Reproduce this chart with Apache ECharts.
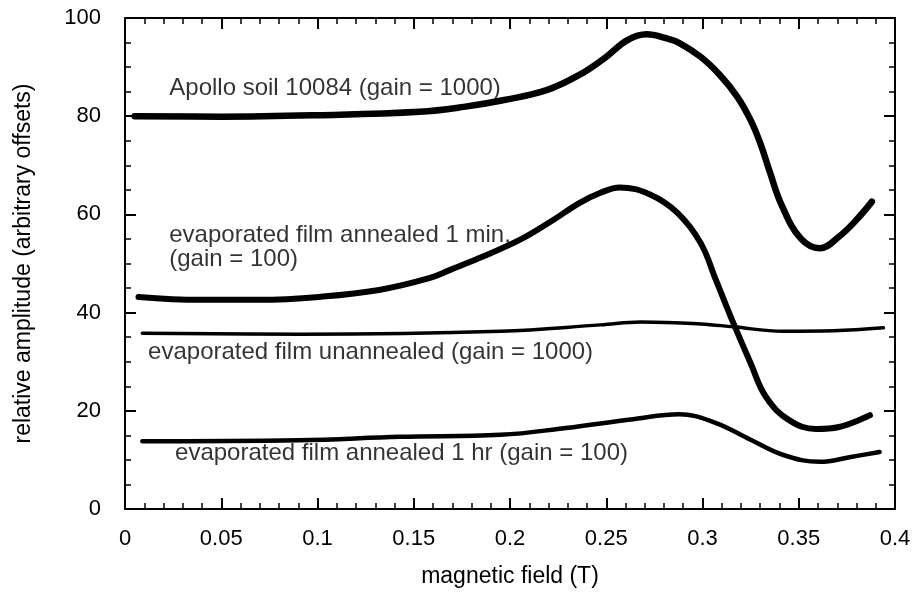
<!DOCTYPE html>
<html>
<head>
<meta charset="utf-8">
<script src="https://cdn.jsdelivr.net/npm/echarts@6/dist/echarts.min.js"></script>
<style>
  html, body { margin: 0; padding: 0; background: #fff; }
  #chart { width: 916px; height: 593px; }
</style>
</head>
<body>
<div id="chart"></div>
<script>
// ESR spectra: magnetic field (T) vs relative amplitude, curves offset vertically
const apolloX = [0.005, 0.05, 0.10, 0.153, 0.176, 0.197, 0.219, 0.236, 0.250, 0.261, 0.271, 0.281, 0.288, 0.299, 0.309, 0.318, 0.325, 0.330, 0.335, 0.341, 0.351, 0.361, 0.371, 0.380, 0.388];
const apolloY = [80, 79.9, 80.2, 80.9, 81.9, 83.3, 85.3, 88.4, 92.1, 95.5, 96.7, 95.9, 94.9, 92.1, 88.4, 84.0, 79.2, 74.5, 68.6, 62.0, 55.1, 53.1, 55.5, 58.9, 62.6];

const min1X = [0.007, 0.039, 0.07, 0.101, 0.132, 0.158, 0.169, 0.184, 0.205, 0.221, 0.236, 0.247, 0.257, 0.273, 0.287, 0.299, 0.307, 0.316, 0.325, 0.333, 0.345, 0.359, 0.371, 0.387];
const min1Y = [43.2, 42.6, 42.6, 43.2, 44.6, 47.0, 48.7, 51.1, 54.8, 58.5, 62.3, 64.4, 65.5, 64.0, 60.3, 54.2, 46.6, 37.9, 29.7, 22.8, 18.1, 16.3, 16.7, 19.1];

const unannX = [0.009, 0.091, 0.195, 0.247, 0.268, 0.299, 0.316, 0.342, 0.368, 0.394];
const unannY = [35.8, 35.6, 36.2, 37.5, 38.1, 37.7, 37.1, 36.2, 36.3, 36.9];

const hr1X = [0.009, 0.09, 0.143, 0.195, 0.229, 0.264, 0.288, 0.307, 0.325, 0.342, 0.361, 0.377, 0.392];
const hr1Y = [13.8, 14.0, 14.7, 15.1, 16.5, 18.3, 19.3, 17.5, 14.1, 11.0, 9.6, 10.6, 11.6];

const xTicks = { min: 0, max: 0.4, interval: 0.05 };
const yTicks = { min: 0, max: 100, interval: 20 };

// curve captions, anchored in data coordinates
const captions = [
  { text: 'Apollo soil 10084 (gain = 1000)', at: [0.023, 85.7] },
  { text: 'evaporated film annealed 1 min,\n(gain = 100)', at: [0.023, 53.2] },
  { text: 'evaporated film unannealed (gain = 1000)', at: [0.012, 31.8] },
  { text: 'evaporated film annealed 1 hr (gain = 100)', at: [0.026, 11.4] }
];

const zip = (xs, ys) => xs.map((x, i) => [x, ys[i]]);
const FONT = '"Liberation Sans", Arial, Helvetica, sans-serif';
const INK = '#000';

const frameAxis = {
  axisLine: { show: true, onZero: false, lineStyle: { color: INK, width: 2 } },
  axisTick: { show: true, inside: true, length: 11, lineStyle: { color: INK, width: 2 } },
  minorTick: { show: true, length: 6, lineStyle: { color: INK, width: 1.5 } },
  splitLine: { show: false },
  minorSplitLine: { show: false }
};

const curveStyle = (w) => ({ color: INK, width: w, cap: 'round', join: 'round' });
const curve = (name, xs, ys, w) => ({
  name, type: 'line', data: zip(xs, ys),
  smooth: 0.4, showSymbol: false, lineStyle: curveStyle(w)
});

const chart = echarts.init(document.getElementById('chart'), null, { renderer: 'canvas' });
chart.setOption({
  backgroundColor: '#fff',
  animation: false,
  textStyle: { fontFamily: FONT },
  grid: { left: 125, right: 21, top: 18, bottom: 84 },
  xAxis: [
    Object.assign({
      type: 'value', position: 'bottom', ...xTicks,
      name: 'magnetic field (T)', nameLocation: 'middle', nameGap: 56,
      nameTextStyle: { fontSize: 23, color: INK, fontFamily: FONT },
      axisLabel: { fontSize: 22, color: INK, margin: 19, fontFamily: FONT },
    }, frameAxis, { minorTick: Object.assign({}, frameAxis.minorTick, { splitNumber: 5 }) }),
    Object.assign({
      type: 'value', position: 'top', ...xTicks,
      axisLabel: { show: false }
    }, frameAxis, { minorTick: Object.assign({}, frameAxis.minorTick, { splitNumber: 5 }) })
  ],
  yAxis: [
    Object.assign({
      type: 'value', position: 'left', ...yTicks,
      name: 'relative amplitude (arbitrary offsets)', nameLocation: 'middle', nameGap: 90,
      nameTextStyle: { fontSize: 23, color: INK, fontFamily: FONT },
      axisLabel: { fontSize: 22, color: INK, margin: 24, fontFamily: FONT },
    }, frameAxis, { minorTick: Object.assign({}, frameAxis.minorTick, { splitNumber: 4 }) }),
    Object.assign({
      type: 'value', position: 'right', ...yTicks,
      axisLabel: { show: false }
    }, frameAxis, { minorTick: Object.assign({}, frameAxis.minorTick, { splitNumber: 4 }) })
  ],
  series: [
    curve('Apollo soil 10084', apolloX, apolloY, 6.5),
    curve('annealed 1 min', min1X, min1Y, 6),
    curve('unannealed', unannX, unannY, 3.5),
    curve('annealed 1 hr', hr1X, hr1Y, 4.5),
    {
      name: 'captions', type: 'scatter', symbolSize: 0, silent: true,
      data: captions.map(c => ({ value: c.at, caption: c.text })),
      label: {
        show: true, position: 'right', distance: 0,
        formatter: p => p.data.caption,
        fontSize: 24, lineHeight: 24, color: INK, fontFamily: FONT
      }
    }
  ]
});
</script>
</body>
</html>
